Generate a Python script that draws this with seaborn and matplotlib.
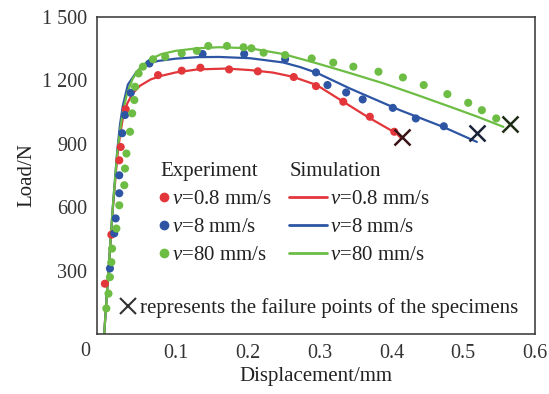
import pandas as pd
import seaborn as sns
import matplotlib.pyplot as plt
from matplotlib.lines import Line2D
from matplotlib.ticker import FuncFormatter

# experiment points (displacement mm, load N)
exp_red_x = [0.001, 0.010, 0.021, 0.023, 0.030, 0.075, 0.108, 0.134, 0.174, 0.214, 0.264, 0.295, 0.333, 0.370, 0.404]
exp_red_y = [238, 470, 822, 885, 1064, 1225, 1246, 1260, 1252, 1243, 1216, 1173, 1099, 1028, 957]

exp_blue_x = [0.008, 0.014, 0.016, 0.021, 0.021, 0.025, 0.029, 0.037, 0.063, 0.137, 0.195, 0.252, 0.295, 0.311, 0.337, 0.360, 0.402, 0.434, 0.473]
exp_blue_y = [310, 476, 547, 666, 751, 950, 1036, 1141, 1280, 1325, 1325, 1300, 1238, 1178, 1143, 1110, 1070, 1020, 983]

exp_green_x = [0.003, 0.006, 0.008, 0.010, 0.011, 0.017, 0.021, 0.028, 0.029, 0.031, 0.036, 0.039, 0.042, 0.043,
               0.048, 0.054, 0.068, 0.085, 0.108, 0.129, 0.145, 0.171, 0.194, 0.205, 0.222, 0.252, 0.289, 0.319,
               0.347, 0.382, 0.416, 0.445, 0.478, 0.507, 0.526, 0.546]
exp_green_y = [121, 191, 269, 340, 404, 499, 609, 704, 783, 854, 957, 1044, 1107, 1170,
               1233, 1265, 1300, 1312, 1328, 1340, 1363, 1363, 1357, 1352, 1331, 1320, 1304, 1284,
               1265, 1241, 1214, 1178, 1135, 1094, 1059, 1020]

# simulation curves
sim_red_x = [0, 0.006, 0.012, 0.018, 0.022, 0.026, 0.032, 0.040, 0.050, 0.065, 0.080, 0.100, 0.130, 0.170,
             0.203, 0.235, 0.263, 0.296, 0.333, 0.368, 0.407, 0.414]
sim_red_y = [0, 300, 590, 830, 940, 1020, 1090, 1140, 1175, 1205, 1222, 1238, 1252, 1256,
             1249, 1237, 1217, 1178, 1099, 1025, 949, 925]

sim_blue_x = [0, 0.006, 0.012, 0.018, 0.022, 0.026, 0.033, 0.045, 0.057, 0.075, 0.100, 0.130, 0.160,
              0.203, 0.249, 0.273, 0.296, 0.342, 0.412, 0.472, 0.519]
sim_blue_y = [0, 300, 600, 860, 990, 1080, 1180, 1240, 1275, 1292, 1303, 1310, 1311,
              1305, 1285, 1263, 1236, 1162, 1059, 980, 909]

sim_green_x = [0, 0.006, 0.012, 0.018, 0.022, 0.026, 0.032, 0.040, 0.050, 0.064, 0.080, 0.100, 0.130, 0.160,
               0.203, 0.249, 0.296, 0.342, 0.389, 0.435, 0.482, 0.520, 0.556]
sim_green_y = [0, 300, 600, 850, 960, 1050, 1140, 1210, 1260, 1300, 1325, 1340, 1352, 1357,
               1352, 1325, 1281, 1235, 1186, 1132, 1075, 1028, 980]

# failure points
fail_x = [0.415, 0.519, 0.565]
fail_y = [932, 950, 995]

speeds = ["$v$=0.8 mm/s", "$v$=8 mm/s", "$v$=80 mm/s"]
colors = ["#e2363b", "#2d55a3", "#6dbd45"]
fail_colors = ["#3a1416", "#1a2438", "#1f2d16"]


def load_displacement_plot():
    sns.set_style("white")
    plt.rcParams['font.family'] = ['Liberation Serif', 'DejaVu Serif']
    plt.rcParams['mathtext.fontset'] = 'custom'
    plt.rcParams['mathtext.it'] = 'Liberation Serif:italic'
    plt.rcParams['mathtext.rm'] = 'Liberation Serif'

    exp = pd.concat([
        pd.DataFrame({'disp': exp_red_x, 'load': exp_red_y, 'speed': speeds[0]}),
        pd.DataFrame({'disp': exp_blue_x, 'load': exp_blue_y, 'speed': speeds[1]}),
        pd.DataFrame({'disp': exp_green_x, 'load': exp_green_y, 'speed': speeds[2]}),
    ])
    sim = pd.concat([
        pd.DataFrame({'disp': sim_red_x, 'load': sim_red_y, 'speed': speeds[0]}),
        pd.DataFrame({'disp': sim_blue_x, 'load': sim_blue_y, 'speed': speeds[1]}),
        pd.DataFrame({'disp': sim_green_x, 'load': sim_green_y, 'speed': speeds[2]}),
    ])
    pal = dict(zip(speeds, colors))

    fig = plt.figure(figsize=(5.49, 3.94), dpi=100)
    ax = fig.add_axes([97 / 549, 1 - 334 / 394, 438 / 549, 317 / 394])

    sns.lineplot(x='disp', y='load', data=sim, hue='speed', palette=pal, sort=False,
                 linewidth=1.6, legend=False, ax=ax, zorder=2)
    sns.scatterplot(x='disp', y='load', data=exp, hue='speed', palette=pal,
                    s=34, linewidth=0, legend=False, ax=ax, zorder=3)
    for fx, fy, fc in zip(fail_x, fail_y, fail_colors):
        ax.plot(fx, fy, marker='x', color=fc, markersize=12, markeredgewidth=1.8, zorder=4)

    ax.set_xlim(-0.01, 0.6)
    ax.set_ylim(0, 1500)
    ax.set_xticks([0.1, 0.2, 0.3, 0.4, 0.5, 0.6])
    ax.set_yticks([300, 600, 900, 1200, 1500])
    ax.yaxis.set_major_formatter(FuncFormatter(lambda v, p: f"{int(v):,}".replace(",", " ")))
    ax.tick_params(direction='in', length=5, width=1, colors='#333333', labelsize=14.5, pad=7)
    for s in ax.spines.values():
        s.set_color('#333333')
        s.set_linewidth(1.1)
    ax.set_xlabel("Displacement/mm", fontsize=15, color='#222222', labelpad=3)
    ax.set_ylabel("Load/N", fontsize=15, color='#222222', labelpad=4)
    fig.text(85 / 549, 1 - 352 / 394, "0", fontsize=14.5, color='#333333', ha='center', va='center')

    exp_handles = [Line2D([], [], marker='o', ls='', color=c, markersize=6) for c in colors]
    leg1 = ax.legend(exp_handles, speeds, title="Experiment", alignment='left', frameon=False,
                     loc='upper left', bbox_to_anchor=(0.122, 0.574), fontsize=15, title_fontsize=15,
                     handlelength=0.3, handletextpad=0.25, labelspacing=0.4, borderpad=0,
                     labelcolor='#222222')
    leg1.get_title().set_color('#222222')
    ax.add_artist(leg1)

    sim_handles = [Line2D([], [], color=c, linewidth=2) for c in colors]
    leg2 = ax.legend(sim_handles, speeds, title="Simulation", alignment='left', frameon=False,
                     loc='upper left', bbox_to_anchor=(0.415, 0.574), fontsize=15, title_fontsize=15,
                     handlelength=1.8, handletextpad=0.15, labelspacing=0.4, borderpad=0,
                     labelcolor='#222222')
    leg2.get_title().set_color('#222222')
    ax.add_artist(leg2)

    fail_handle = [Line2D([], [], marker='x', ls='', color='#333333', markersize=11, markeredgewidth=1.5)]
    ax.legend(fail_handle, ["represents the failure points of the specimens"], frameon=False,
              loc='lower left', bbox_to_anchor=(0.033, 0.018), fontsize=15, handlelength=0.6,
              handletextpad=0.25, borderpad=0, labelcolor='#222222')

    fig.savefig("out.png", dpi=100)


def main():
    load_displacement_plot()


if (__name__ == '__main__'):
    main()
